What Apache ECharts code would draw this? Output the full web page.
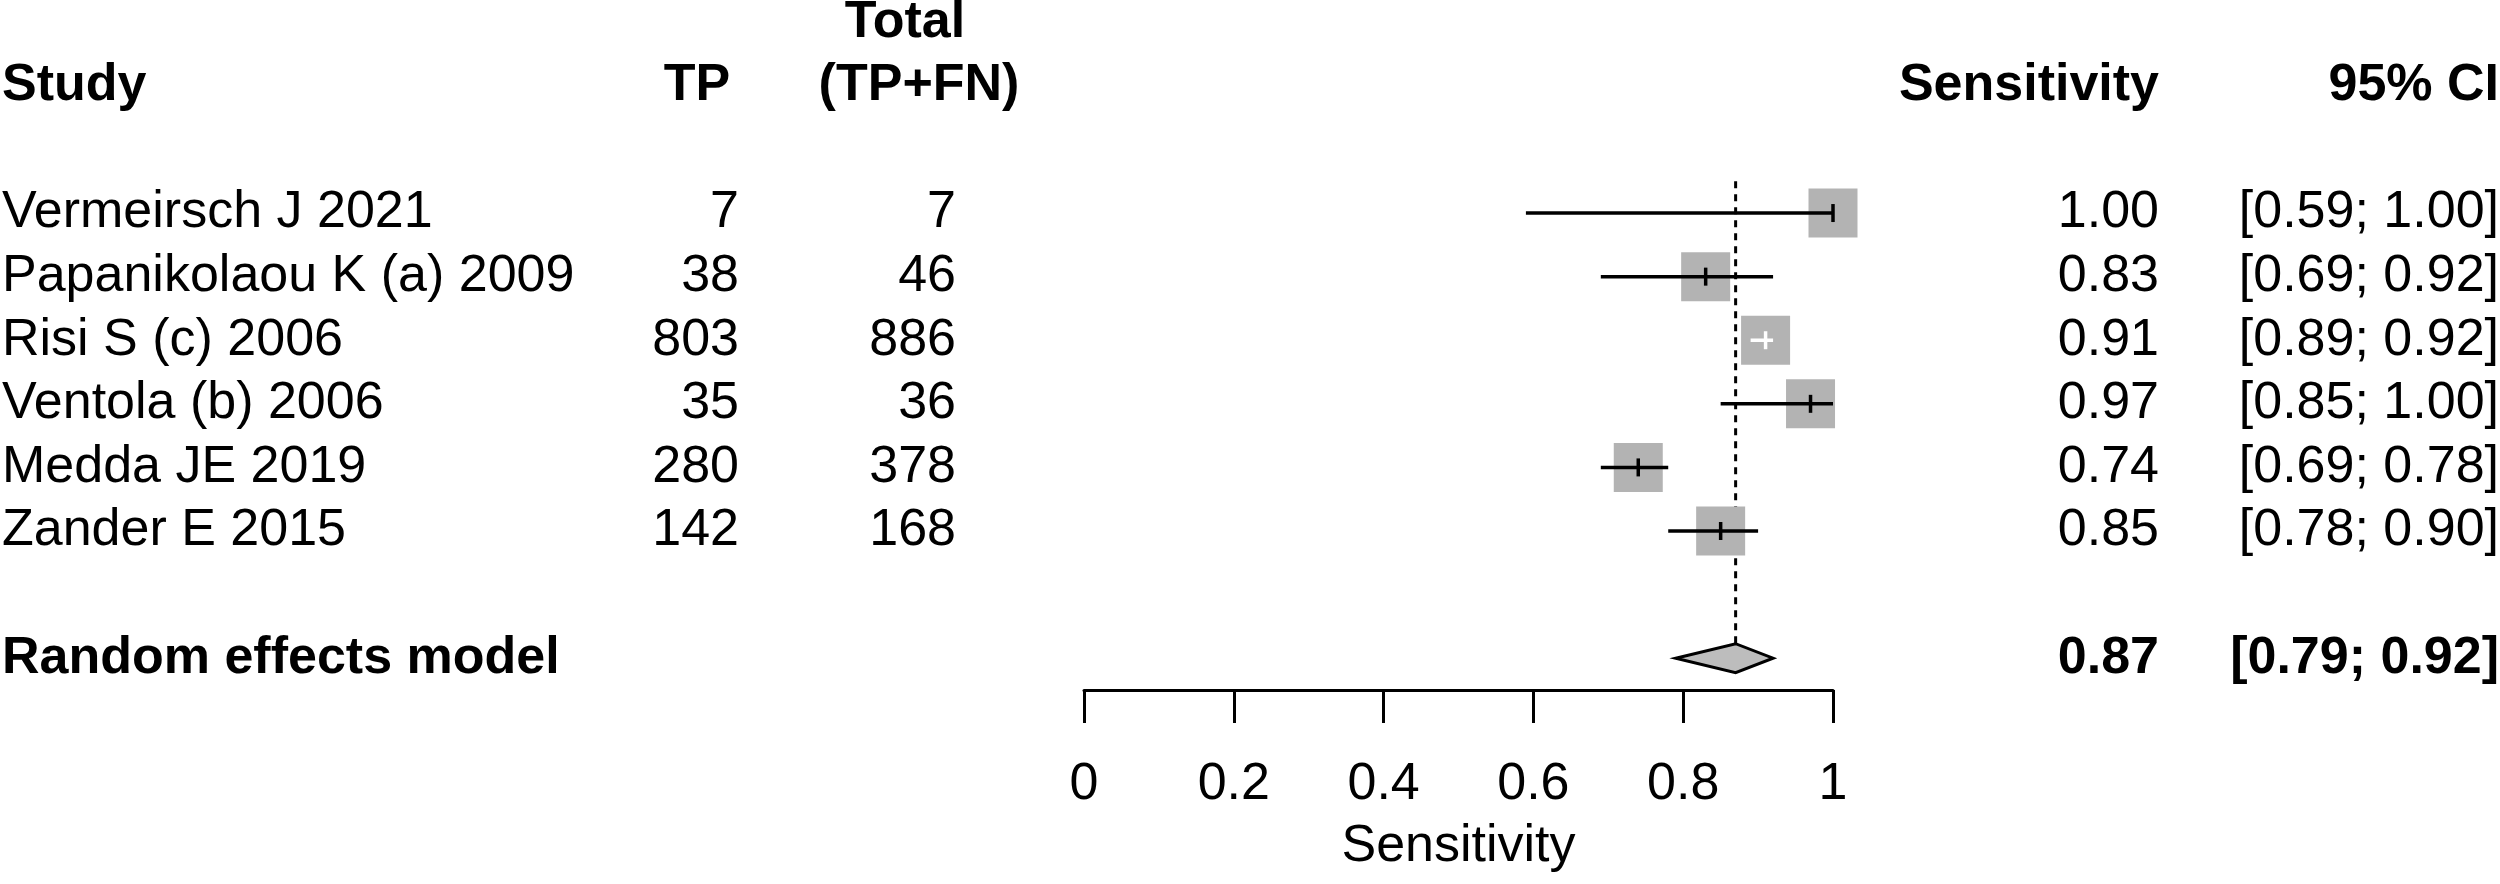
<!DOCTYPE html>
<html><head><meta charset="utf-8">
<script src="https://cdn.jsdelivr.net/npm/echarts@6/dist/echarts.min.js"></script>
<style>html,body{margin:0;padding:0;background:#fff}#c{width:2500px;height:884px}</style>
</head><body><div id="c"></div>
<script>
// ---------------- data ----------------
const studies = ['Vermeirsch J 2021', 'Papanikolaou K (a) 2009', 'Risi S (c) 2006', 'Ventola (b) 2006', 'Medda JE 2019', 'Zander E 2015'];
const tp = [7, 38, 803, 35, 280, 142];
const total = [7, 46, 886, 36, 378, 168];
const sensitivity = [1.00, 0.83, 0.91, 0.97, 0.74, 0.85];
const ciLower = [0.59, 0.69, 0.89, 0.85, 0.69, 0.78];
const ciUpper = [1.00, 0.92, 0.92, 1.00, 0.78, 0.90];
const pooledName = 'Random effects model';
const pooledEst = [0.87];
const pooledLower = [0.79];
const pooledUpper = [0.92];
const xTickValues = [0, 0.2, 0.4, 0.6, 0.8, 1];
const headerStudy = 'Study';
const headerTP = 'TP';
const headerTotal = ['Total', '(TP+FN)'];
const headerSens = 'Sensitivity';
const headerCI = '95% CI';
const axisTitle = 'Sensitivity';

// ---------------- layout (not data) ----------------
const FONT = '"Liberation Sans", Arial, Helvetica, sans-serif';
const FS = 52;
const COL = { study: 2, tpHead: 697, tp: 739, total: 956, totalTop: 905, totalHead: 919, sens: 2159, ci: 2499 };
const ROW_HEAD = -2, ROW_TOP = -3, ROW_POOLED = studies.length + 1;
const BOX = 49, DIAM_H = 14.5;

const fmt2 = v => v.toFixed(2);
const fmtCI = (l, h) => '[' + fmt2(l) + '; ' + fmt2(h) + ']';

const texts = [];
function addText(x, row, text, align, bold) { texts.push({ x, row, text: String(text), align, bold }); }
addText(COL.totalTop, ROW_TOP, headerTotal[0], 'center', true);
addText(COL.study, ROW_HEAD, headerStudy, 'left', true);
addText(COL.tpHead, ROW_HEAD, headerTP, 'center', true);
addText(COL.totalHead, ROW_HEAD, headerTotal[1], 'center', true);
addText(COL.sens, ROW_HEAD, headerSens, 'right', true);
addText(COL.ci, ROW_HEAD, headerCI, 'right', true);
studies.forEach((s, i) => {
  addText(COL.study, i, s, 'left', false);
  addText(COL.tp, i, tp[i], 'right', false);
  addText(COL.total, i, total[i], 'right', false);
  addText(COL.sens, i, fmt2(sensitivity[i]), 'right', false);
  addText(COL.ci, i, fmtCI(ciLower[i], ciUpper[i]), 'right', false);
});
addText(COL.study, ROW_POOLED, pooledName, 'left', true);
addText(COL.sens, ROW_POOLED, fmt2(pooledEst[0]), 'right', true);
addText(COL.ci, ROW_POOLED, fmtCI(pooledLower[0], pooledUpper[0]), 'right', true);

const studyData = studies.map((s, i) => [sensitivity[i], i, ciLower[i], ciUpper[i]]);
const pooledData = pooledEst.map((e, i) => [e, ROW_POOLED, pooledLower[i], pooledUpper[i]]);

const yCommon = { type: 'value', min: -3.35, max: 7.5, inverse: true, show: false };

const chart = echarts.init(document.getElementById('c'), null, { renderer: 'canvas' });
chart.setOption({
  animation: false,
  backgroundColor: '#fff',
  grid: [
    { left: 1084, right: 667, top: 0, bottom: 194 },
    { left: 0, right: 0, top: 0, bottom: 194 }
  ],
  xAxis: [
    {
      gridIndex: 0, type: 'value', min: xTickValues[0], max: xTickValues[xTickValues.length - 1],
      interval: xTickValues[1] - xTickValues[0],
      axisLine: { show: true, onZero: false, lineStyle: { color: '#000', width: 3 } },
      axisTick: { show: true, length: 33, lineStyle: { color: '#000', width: 3 } },
      axisLabel: { show: true, color: '#000', fontSize: FS, fontFamily: FONT, margin: 69 },
      splitLine: { show: false },
      name: axisTitle, nameLocation: 'middle', nameGap: 131,
      nameTextStyle: { color: '#000', fontSize: FS, fontFamily: FONT }
    },
    { gridIndex: 1, type: 'value', min: 0, max: 2500, show: false }
  ],
  yAxis: [
    Object.assign({ gridIndex: 0 }, yCommon),
    Object.assign({ gridIndex: 1 }, yCommon)
  ],
  series: [
    {
      type: 'custom', xAxisIndex: 0, yAxisIndex: 0, clip: false, z: 3,
      data: pooledData.map(d => [d[0], -0.5, d[1]]),
      renderItem(params, api) {
        const top = api.coord([api.value(0), api.value(1)]);
        const bot = api.coord([api.value(0), api.value(2)]);
        return { type: 'line', shape: { x1: top[0], y1: top[1], x2: bot[0], y2: bot[1] - DIAM_H },
          style: { stroke: '#000', lineWidth: 3, lineDash: [7, 6] } };
      }
    },
    {
      type: 'custom', xAxisIndex: 0, yAxisIndex: 0, clip: false, z: 4,
      data: studyData,
      renderItem(params, api) {
        const row = api.value(1);
        const c = api.coord([api.value(0), row]);
        const l = api.coord([api.value(2), row]);
        const h = api.coord([api.value(3), row]);
        const half = BOX / 2;
        const inside = l[0] >= c[0] - half && h[0] <= c[0] + half;
        const col = inside ? '#fff' : '#000';
        return { type: 'group', children: [
          { type: 'rect', shape: { x: c[0] - half, y: c[1] - half, width: BOX, height: BOX }, style: { fill: '#b3b3b3' } },
          { type: 'line', shape: { x1: l[0], y1: c[1], x2: h[0], y2: c[1] }, style: { stroke: col, lineWidth: 3.5 } },
          { type: 'line', shape: { x1: c[0], y1: c[1] - 9, x2: c[0], y2: c[1] + 9 }, style: { stroke: col, lineWidth: 3.5 } }
        ] };
      }
    },
    {
      type: 'custom', xAxisIndex: 0, yAxisIndex: 0, clip: false, z: 4,
      data: pooledData,
      renderItem(params, api) {
        const row = api.value(1);
        const c = api.coord([api.value(0), row]);
        const l = api.coord([api.value(2), row]);
        const h = api.coord([api.value(3), row]);
        return { type: 'polygon', shape: { points: [[l[0], c[1]], [c[0], c[1] - DIAM_H], [h[0], c[1]], [c[0], c[1] + DIAM_H]] },
          style: { fill: '#bdbdbd', stroke: '#000', lineWidth: 3 } };
      }
    },
    {
      type: 'custom', xAxisIndex: 1, yAxisIndex: 1, clip: false, z: 5,
      data: texts.map((t, i) => [t.x, t.row, i]),
      renderItem(params, api) {
        const t = texts[api.value(2)];
        const p = api.coord([api.value(0), api.value(1)]);
        return { type: 'text', style: {
          text: t.text, x: p[0], y: p[1], fill: '#000',
          font: (t.bold ? 'bold ' : '') + FS + 'px ' + FONT,
          align: t.align, verticalAlign: 'middle', textAlign: t.align, textVerticalAlign: 'middle'
        } };
      }
    }
  ]
});
</script>
</body></html>
